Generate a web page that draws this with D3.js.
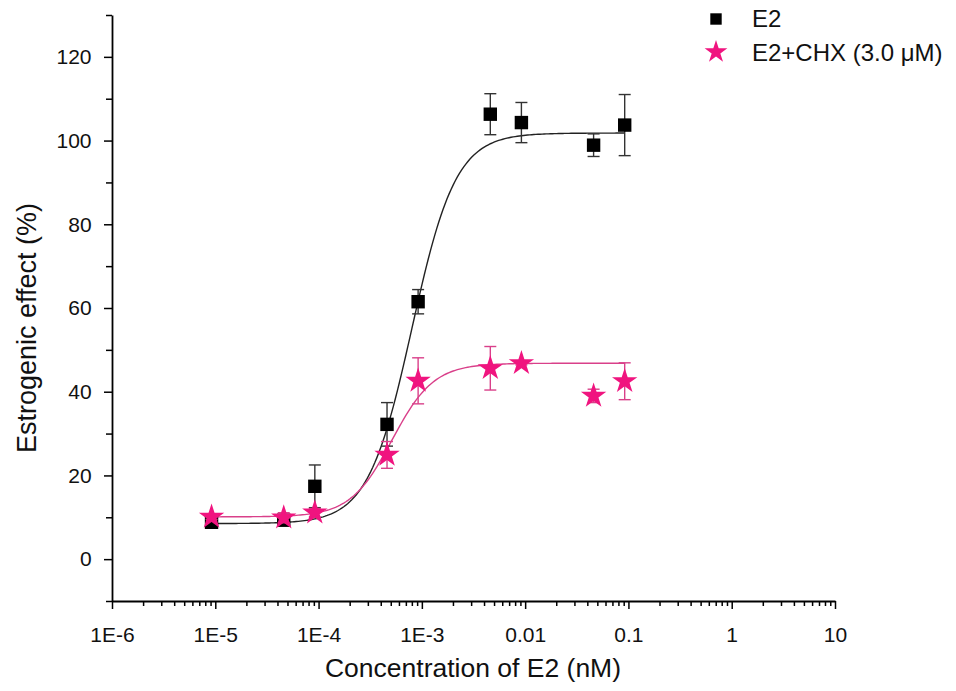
<!DOCTYPE html>
<html>
<head>
<meta charset="utf-8">
<script src="https://cdn.jsdelivr.net/npm/d3@7"></script>
<style>
  body { margin: 0; background: #fff; }
  svg { font-family: "Liberation Sans", Arial, sans-serif; }
</style>
</head>
<body>
<div class="chart"></div>
<script>
// concentrations (nM) and responses
const conc = [9.2e-6, 4.6e-5, 9.2e-5, 4.6e-4, 9.2e-4, 4.6e-3, 9.2e-3, 4.6e-2, 9.2e-2];
const e2 = [8.8, 9.3, 17.4, 32.2, 61.5, 106.3, 104.3, 98.9, 103.7];
const e2Err = [0.8, 0.9, 5.1, 5.2, 2.9, 4.9, 4.8, 2.7, 7.3];
const chx = [10.1, 9.9, 11.1, 24.9, 42.6, 45.6, 46.8, 39.0, 42.5];
const chxErr = [0.6, 1.2, 1.0, 3.2, 5.5, 5.2, 0.4, 1.6, 4.4];

// logistic fit: bottom, top, logEC50, hill slope
const e2Fit = [8.5, 101.8, -3.096, 2.04];
const chxFit = [10.1, 46.8, -3.289, 2.15];

const xTicks = [1e-6, 1e-5, 1e-4, 1e-3, 1e-2, 1e-1, 1, 10];
const xTickLabels = ["1E-6", "1E-5", "1E-4", "1E-3", "0.01", "0.1", "1", "10"];
const yTicks = [0, 20, 40, 60, 80, 100, 120];
const yMinor = [-10, 10, 30, 50, 70, 90, 110, 130];
const seriesNames = ["E2", "E2+CHX (3.0 \u03bcM)"];

const width = 956, height = 691;
const black = "#000", pink = "#f0147f", pinkLine = "#d9408a";

const svg = d3.select(".chart").append("svg")
    .attr("width", width)
    .attr("height", height);

const x = d3.scaleLog().domain([1e-6, 10]).range([112, 835]);
const y = d3.scaleLinear().domain([-10, 130]).range([601, 15]);

// minor x ticks 2..9 per decade
const xMinor = [];
xTicks.slice(0, -1).forEach(t => {
    for (let k = 2; k <= 9; k++) xMinor.push(t * k);
});

// axes
svg.append("g")
    .attr("transform", "translate(0," + y(-10) + ")")
    .call(d3.axisBottom(x).tickValues(xMinor).tickSize(5).tickFormat("").tickSizeOuter(0))
    .call(g => g.select(".domain").remove());

svg.append("g")
    .attr("class", "x-axis")
    .attr("transform", "translate(0," + y(-10) + ")")
    .call(d3.axisBottom(x).tickValues(xTicks).tickSize(8).tickSizeOuter(0)
        .tickFormat((d, i) => xTickLabels[i]));

svg.append("g")
    .attr("transform", "translate(" + x(1e-6) + ",0)")
    .call(d3.axisLeft(y).tickValues(yMinor).tickSize(6).tickFormat("").tickSizeOuter(0))
    .call(g => g.select(".domain").remove());

svg.append("g")
    .attr("class", "y-axis")
    .attr("transform", "translate(" + x(1e-6) + ",0)")
    .call(d3.axisLeft(y).tickValues(yTicks).tickSize(8).tickSizeOuter(0));

svg.selectAll(".tick line").attr("stroke", "#000").attr("stroke-width", 1.5);
svg.selectAll(".domain").attr("stroke", "#000").attr("stroke-width", 1.8);
svg.selectAll(".x-axis text").attr("font-size", 21).attr("dy", "1.45em").attr("fill", "#111");
svg.selectAll(".y-axis text").attr("font-size", 21).attr("dx", "-0.45em").attr("fill", "#111");

// axis titles
svg.append("text")
    .attr("x", 473).attr("y", 677)
    .attr("text-anchor", "middle")
    .attr("font-size", 26.5)
    .attr("fill", "#111")
    .text("Concentration of E2 (nM)");

svg.append("text")
    .attr("transform", "translate(36,328) rotate(-90)")
    .attr("text-anchor", "middle")
    .attr("font-size", 27)
    .attr("fill", "#111")
    .text("Estrogenic effect (%)");

// fitted curves
function logistic(p, lx) {
    return p[0] + (p[1] - p[0]) / (1 + Math.pow(10, (p[2] - lx) * p[3]));
}
const lo = Math.log10(conc[0]), hi = Math.log10(conc[conc.length - 1]);
const steps = d3.range(0, 201).map(i => lo + (hi - lo) * i / 200);
const line = d3.line().x(d => x(Math.pow(10, d[0]))).y(d => y(d[1]));

svg.append("path")
    .datum(steps.map(l => [l, logistic(e2Fit, l)]))
    .attr("fill", "none").attr("stroke", "#222").attr("stroke-width", 1.4)
    .attr("d", line);

svg.append("path")
    .datum(steps.map(l => [l, logistic(chxFit, l)]))
    .attr("fill", "none").attr("stroke", pinkLine).attr("stroke-width", 1.4)
    .attr("d", line);

// error bars + markers
function drawSeries(vals, errs, color, barColor, symbol, size) {
    const g = svg.append("g");
    const bars = g.selectAll(".err").data(conc).enter().append("g");
    bars.append("line")
        .attr("x1", d => x(d)).attr("x2", d => x(d))
        .attr("y1", (d, i) => y(vals[i] + errs[i]))
        .attr("y2", (d, i) => y(vals[i] - errs[i]));
    bars.append("line")
        .attr("x1", d => x(d) - 6).attr("x2", d => x(d) + 6)
        .attr("y1", (d, i) => y(vals[i] + errs[i]))
        .attr("y2", (d, i) => y(vals[i] + errs[i]));
    bars.append("line")
        .attr("x1", d => x(d) - 6).attr("x2", d => x(d) + 6)
        .attr("y1", (d, i) => y(vals[i] - errs[i]))
        .attr("y2", (d, i) => y(vals[i] - errs[i]));
    bars.selectAll("line").attr("stroke", barColor).attr("stroke-width", 1.4);

    g.selectAll(".pt").data(conc).enter().append("path")
        .attr("transform", (d, i) => "translate(" + x(d) + "," + y(vals[i]) + ")")
        .attr("d", d3.symbol().type(symbol).size(size))
        .attr("fill", color);
}

drawSeries(e2, e2Err, black, "#333", d3.symbolSquare, 180);
drawSeries(chx, chxErr, pink, pinkLine, d3.symbolStar, 200);

// legend
const legend = svg.append("g");
legend.append("path")
    .attr("transform", "translate(716,19)")
    .attr("d", d3.symbol().type(d3.symbolSquare).size(130))
    .attr("fill", black);
legend.append("path")
    .attr("transform", "translate(716,52)")
    .attr("d", d3.symbol().type(d3.symbolStar).size(160))
    .attr("fill", pink);
legend.selectAll(".lbl").data(seriesNames).enter().append("text")
    .attr("x", 752)
    .attr("y", (d, i) => 27 + i * 34)
    .attr("font-size", 24)
    .attr("fill", "#111")
    .text(d => d);
</script>
</body>
</html>
